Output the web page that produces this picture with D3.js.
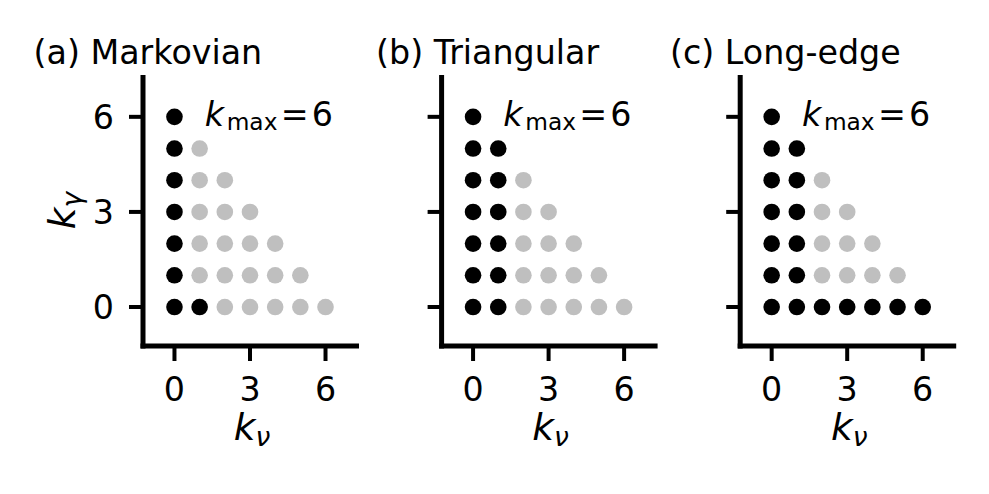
<!DOCTYPE html>
<html>
<head>
<meta charset="utf-8">
<script src="https://cdn.jsdelivr.net/npm/d3@7"></script>
<style>
  html, body { margin: 0; padding: 0; background: #fff; }
  svg { display: block; font-family: "DejaVu Sans", sans-serif; }
</style>
</head>
<body>
<svg id="chart" width="989" height="494"></svg>
<script>
// ---------- data ----------
const panelTitles = ["(a) Markovian", "(b) Triangular", "(c) Long-edge"];
const kmaxValue = 6;
const xTicks = [0, 3, 6];
const yTicks = [0, 3, 6];
// all (k_nu, k_gamma) pairs with k_nu + k_gamma <= kmax
const gridPoints = [
  [0,0],[1,0],[2,0],[3,0],[4,0],[5,0],[6,0],
  [0,1],[1,1],[2,1],[3,1],[4,1],[5,1],
  [0,2],[1,2],[2,2],[3,2],[4,2],
  [0,3],[1,3],[2,3],[3,3],
  [0,4],[1,4],[2,4],
  [0,5],[1,5],
  [0,6]
];
// points kept (black) in each truncation scheme
const markovianKept = [[0,0],[0,1],[0,2],[0,3],[0,4],[0,5],[0,6],[1,0]];
const triangularKept = [[0,0],[0,1],[0,2],[0,3],[0,4],[0,5],[0,6],
                        [1,0],[1,1],[1,2],[1,3],[1,4],[1,5]];
const longEdgeKept = [[0,0],[0,1],[0,2],[0,3],[0,4],[0,5],[0,6],
                      [1,0],[1,1],[1,2],[1,3],[1,4],[1,5],
                      [2,0],[3,0],[4,0],[5,0],[6,0]];
const keptSets = [markovianKept, triangularKept, longEdgeKept];

// ---------- layout ----------
const svg = d3.select("#chart");
const panelLeft = [143, 441.6, 740.2];
const panelWidth = 216;
const plotTop = 75, plotBottom = 346;
const titleX = [33.5, 376, 670];
const titleY = 64;
const fontSize = 33.3;
const dotR = 8.3;
const black = "#000000", gray = "#bfbfbf";
const spineW = 5, tickW = 4, tickLen = 14;

panelTitles.forEach((title, i) => {
  const left = panelLeft[i];
  const x = d3.scaleLinear().domain([-1.25, 7.33]).range([left, left + panelWidth]);
  const y = d3.scaleLinear().domain([-1.23, 7.32]).range([plotBottom, plotTop]);
  const g = svg.append("g");
  const kept = new Set(keptSets[i].map(d => d.join(",")));

  // points
  g.selectAll("circle")
    .data(gridPoints)
    .join("circle")
    .attr("cx", d => x(d[0]))
    .attr("cy", d => y(d[1]))
    .attr("r", dotR)
    .attr("fill", d => kept.has(d.join(",")) ? black : gray);

  // spines
  g.append("line")
    .attr("x1", left).attr("x2", left)
    .attr("y1", plotTop).attr("y2", plotBottom + spineW / 2)
    .attr("stroke", "#000").attr("stroke-width", spineW);
  g.append("line")
    .attr("x1", left - spineW / 2).attr("x2", left + panelWidth)
    .attr("y1", plotBottom).attr("y2", plotBottom)
    .attr("stroke", "#000").attr("stroke-width", spineW);

  // x ticks
  xTicks.forEach(t => {
    g.append("line")
      .attr("x1", x(t)).attr("x2", x(t))
      .attr("y1", plotBottom).attr("y2", plotBottom + tickLen + 1)
      .attr("stroke", "#000").attr("stroke-width", tickW);
    g.append("text")
      .attr("x", x(t)).attr("y", 401)
      .attr("text-anchor", "middle")
      .attr("font-size", fontSize)
      .text(t);
  });
  // y ticks
  yTicks.forEach(t => {
    g.append("line")
      .attr("x1", left).attr("x2", left - tickLen)
      .attr("y1", y(t)).attr("y2", y(t))
      .attr("stroke", "#000").attr("stroke-width", tickW);
    if (i === 0) {
      g.append("text")
        .attr("x", left - 29).attr("y", y(t) + 12)
        .attr("text-anchor", "end")
        .attr("font-size", fontSize)
        .text(t);
    }
  });

  // title
  svg.append("text")
    .attr("x", titleX[i]).attr("y", titleY)
    .attr("font-size", fontSize)
    .text(title);

  // k_max annotation
  const ax = x(1.2), ay = y(6) + 9.5;
  g.append("text").attr("x", ax).attr("y", ay)
    .attr("font-size", fontSize).attr("font-style", "italic").text("k");
  g.append("text").attr("x", ax + 22).attr("y", ay + 3.5)
    .attr("font-size", 23.3).text("max");
  g.append("text").attr("x", ax + 76).attr("y", ay)
    .attr("font-size", fontSize).text("=");
  g.append("text").attr("x", ax + 107).attr("y", ay)
    .attr("font-size", fontSize).text(kmaxValue);

  // x label
  const xl = g.append("text")
    .attr("x", left + panelWidth / 2 + 1).attr("y", 440)
    .attr("text-anchor", "middle")
    .attr("font-size", 37.5);
  xl.append("tspan").attr("font-style", "italic").text("k");
  xl.append("tspan").attr("font-style", "italic").attr("font-size", 26.5).attr("dy", 6).text("ν");

  // y label (only first panel)
  if (i === 0) {
    const yl = g.append("text")
      .attr("transform", `translate(75, ${(plotTop + plotBottom) / 2}) rotate(-90)`)
      .attr("text-anchor", "middle")
      .attr("font-size", 37.5);
    yl.append("tspan").attr("font-style", "italic").text("k");
    yl.append("tspan").attr("font-style", "italic").attr("font-size", 26.5).attr("dy", 6).text("γ");
  }
});
</script>
</body>
</html>
